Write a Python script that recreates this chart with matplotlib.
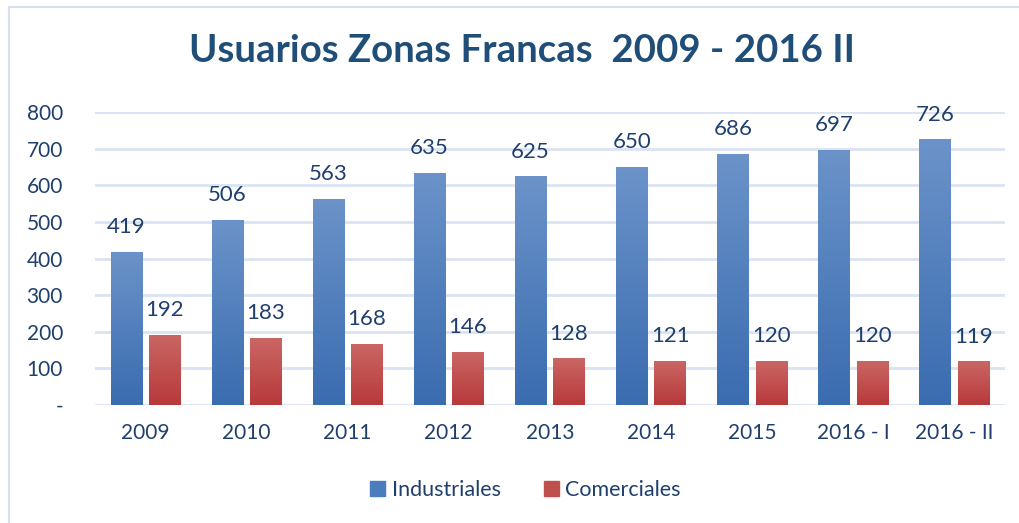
import matplotlib
matplotlib.use('Agg')
import matplotlib.pyplot as plt
import numpy as np
from matplotlib.patches import Rectangle
from matplotlib.colors import LinearSegmentedColormap

categories = ["2009", "2010", "2011", "2012", "2013", "2014", "2015", "2016 - I", "2016 - II"]
industriales = [419, 506, 563, 635, 625, 650, 686, 697, 726]
comerciales = [192, 183, 168, 146, 128, 121, 120, 120, 119]
yticks = [0, 100, 200, 300, 400, 500, 600, 700, 800]
ytick_labels = ["-", "100", "200", "300", "400", "500", "600", "700", "800"]

TEXT = "#1F3F6E"
plt.rcParams['font.family'] = ['Lato', 'DejaVu Sans']

blue_cmap = LinearSegmentedColormap.from_list("b", ["#3A6CB0", "#6B93C9"])
red_cmap = LinearSegmentedColormap.from_list("r", ["#B8393A", "#C96764"])

fig = plt.figure(figsize=(10.2, 5.23), dpi=100)
ax = fig.add_axes([0.093, 0.2256, 0.892, 0.560])

x = np.arange(len(categories))
width = 0.31
off = 0.19
grad = np.linspace(0, 1, 256).reshape(-1, 1)


def gradient_bars(xs, vals, cmap, label):
    bars = ax.bar(xs, vals, width, color=cmap(0.5), label=label, zorder=2)
    for b in bars:
        b.set_facecolor('none')
        im = ax.imshow(grad, cmap=cmap, origin='lower', aspect='auto',
                       extent=[b.get_x(), b.get_x() + b.get_width(), 0, b.get_height()],
                       zorder=2)
        im.set_clip_path(b)
    for xi, v in zip(xs, vals):
        ax.text(xi, v + 40, str(v), ha='center', va='bottom', fontsize=16, color=TEXT)
    return bars


gradient_bars(x - off, industriales, blue_cmap, "Industriales")
gradient_bars(x + off, comerciales, red_cmap, "Comerciales")

ax.set_xlim(-0.5, len(categories) - 0.5)
ax.set_ylim(0, 800)
ax.set_yticks(yticks)
ax.set_yticklabels(ytick_labels)
ax.set_xticks(x)
ax.set_xticklabels(categories)
ax.tick_params(axis='both', length=0, labelsize=15, labelcolor=TEXT)
ax.tick_params(axis='x', pad=13)
ax.tick_params(axis='y', pad=23)
ax.grid(axis='y', color='#D9E3F1', linewidth=2, zorder=0)
ax.set_axisbelow(True)
for s in ax.spines.values():
    s.set_visible(False)

handles = [Rectangle((0, 0), 1, 1, color="#4A7CBE"), Rectangle((0, 0), 1, 1, color="#C0504D")]
fig.legend(handles, ["Industriales", "Comerciales"], loc='center', bbox_to_anchor=(0.515, 0.063),
           ncol=2, frameon=False, fontsize=15.5, labelcolor=TEXT, handlelength=0.7,
           handleheight=0.7, handletextpad=0.3, columnspacing=2.0)

fig.text(0.512, 0.902, "Usuarios Zonas Francas  2009 - 2016 II", ha='center', va='center',
         fontsize=27.6, fontweight='bold', color="#1F4E79")

fig.patches.append(Rectangle((0.009, -0.01), 1.1, 0.997, transform=fig.transFigure,
                             fill=False, edgecolor='#D6E1EF', linewidth=1.5))

fig.savefig("out.png", dpi=100)
